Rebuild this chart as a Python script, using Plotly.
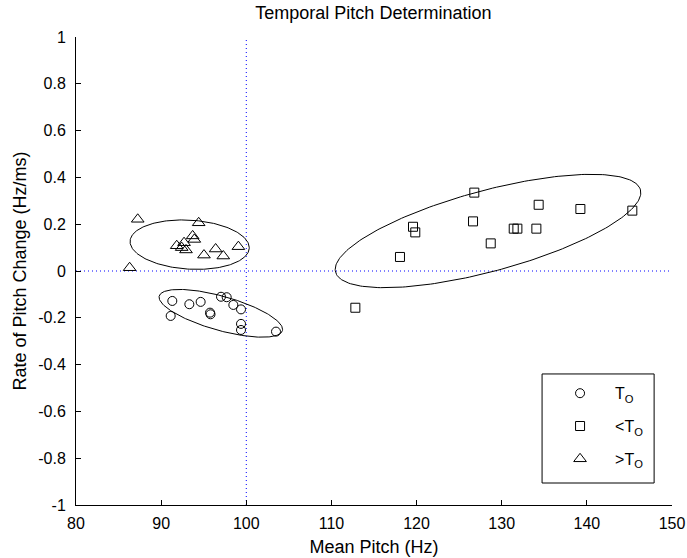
import numpy as np
import plotly.graph_objects as go

# Mean pitch (Hz) and rate of pitch change (Hz/ms) for each group
to_pitch = [91.31, 91.12, 93.31, 94.64, 95.74, 95.80, 97.03, 97.70, 98.48, 99.38, 99.38, 99.38, 103.49]
to_rate = [-0.128, -0.192, -0.142, -0.132, -0.178, -0.185, -0.110, -0.112, -0.145, -0.164, -0.226, -0.252, -0.259]

lt_pitch = [126.78, 134.34, 139.24, 145.34, 119.58, 119.85, 126.63, 131.41, 131.84, 134.07, 128.71, 118.05, 112.81]
lt_rate = [0.335, 0.283, 0.265, 0.258, 0.189, 0.165, 0.212, 0.181, 0.181, 0.181, 0.118, 0.060, -0.157]

gt_pitch = [87.25, 94.41, 93.70, 93.90, 91.83, 92.69, 92.92, 92.41, 95.03, 96.40, 97.30, 99.07, 86.30]
gt_rate = [0.221, 0.206, 0.150, 0.135, 0.108, 0.121, 0.090, 0.100, 0.068, 0.094, 0.064, 0.104, 0.014]

# Cluster ellipses: centre, major and minor semi-diameter vectors (data units)
ell_centre = [(97.01, -0.1808), (128.39, 0.1709), (93.35, 0.1126)]
ell_major = [(7.236, -0.0740), (17.906, 0.1758), (6.999, -0.01556)]
ell_minor = [(-0.543, -0.0703), (1.236, -0.1667), (-0.1757, -0.1045)]

x_ticks = [80, 90, 100, 110, 120, 130, 140, 150]
y_ticks = [-1, -0.8, -0.6, -0.4, -0.2, 0, 0.2, 0.4, 0.6, 0.8, 1]
y_tick_text = ["-1", "-0.8", "-0.6", "-0.4", "-0.2", "0", "0.2", "0.4", "0.6", "0.8", "1"]

FONT = "Liberation Sans, Arial, Helvetica, sans-serif"

fig = go.Figure()

# Reference lines at 100 Hz and zero rate
fig.add_trace(go.Scatter(x=[100, 100], y=[-1, 1], mode="lines",
                         line=dict(color="#0000ff", width=1, dash="1px,3px"),
                         showlegend=False, hoverinfo="skip"))
fig.add_trace(go.Scatter(x=[80, 150], y=[0, 0], mode="lines",
                         line=dict(color="#0000ff", width=1, dash="1px,3px"),
                         showlegend=False, hoverinfo="skip"))

# Ellipses around each cluster
t = np.linspace(0, 2 * np.pi, 240)
for (cx, cy), (mx, my), (nx, ny) in zip(ell_centre, ell_major, ell_minor):
    fig.add_trace(go.Scatter(x=cx + mx * np.cos(t) + nx * np.sin(t),
                             y=cy + my * np.cos(t) + ny * np.sin(t),
                             mode="lines", line=dict(color="black", width=1),
                             showlegend=False, hoverinfo="skip"))

groups = [
    ("T<sub>O</sub>", to_pitch, to_rate, "circle-open", 9),
    ("&lt;T<sub>O</sub>", lt_pitch, lt_rate, "square-open", 9),
    ("&gt;T<sub>O</sub>", gt_pitch, gt_rate, "triangle-up-open", 11),
]
for i, (name, xs, ys, sym, sz) in enumerate(groups):
    fig.add_trace(go.Scatter(x=xs, y=ys, mode="markers", name=name,
                             legendgroup=f"g{i}",
                             marker=dict(symbol=sym, size=sz, color="black",
                                         line=dict(color="black", width=1))))

axis_common = dict(showgrid=False, zeroline=False, showline=True, linecolor="black",
                   linewidth=1, ticks="inside", ticklen=5, tickcolor="black",
                   mirror=False, automargin=False,
                   tickfont=dict(family=FONT, size=16, color="black"))

fig.update_layout(
    width=687, height=558,
    margin=dict(l=76, r=15, t=37, b=53, autoexpand=False),
    paper_bgcolor="white", plot_bgcolor="white",
    font=dict(family=FONT, size=16, color="black"),
    title=dict(text="Temporal Pitch Determination", x=0.5435, xanchor="center",
               y=0.978, yanchor="middle", font=dict(family=FONT, size=18, color="black")),
    xaxis=dict(range=[80, 150], tickvals=x_ticks, ticklabelstandoff=4,
               title=dict(text="Mean Pitch (Hz)", standoff=9,
                          font=dict(family=FONT, size=18)),
               **axis_common),
    yaxis=dict(range=[-1, 1], tickvals=y_ticks, ticktext=y_tick_text, ticklabelstandoff=6,
               title=dict(text="Rate of Pitch Change (Hz/ms)", standoff=6,
                          font=dict(family=FONT, size=18)),
               **axis_common),
    legend=dict(x=0.787, y=0.275, xanchor="left", yanchor="top",
                bgcolor="rgba(255,255,255,0)", borderwidth=0,
                itemwidth=60, tracegroupgap=9,
                font=dict(family=FONT, size=16, color="black")),
    shapes=[dict(type="rect", xref="paper", yref="paper",
                 x0=0.782, x1=0.970, y0=0.047, y1=0.280,
                 line=dict(color="black", width=1), fillcolor="rgba(0,0,0,0)")],
    showlegend=True,
)

fig.write_html("out.html")
